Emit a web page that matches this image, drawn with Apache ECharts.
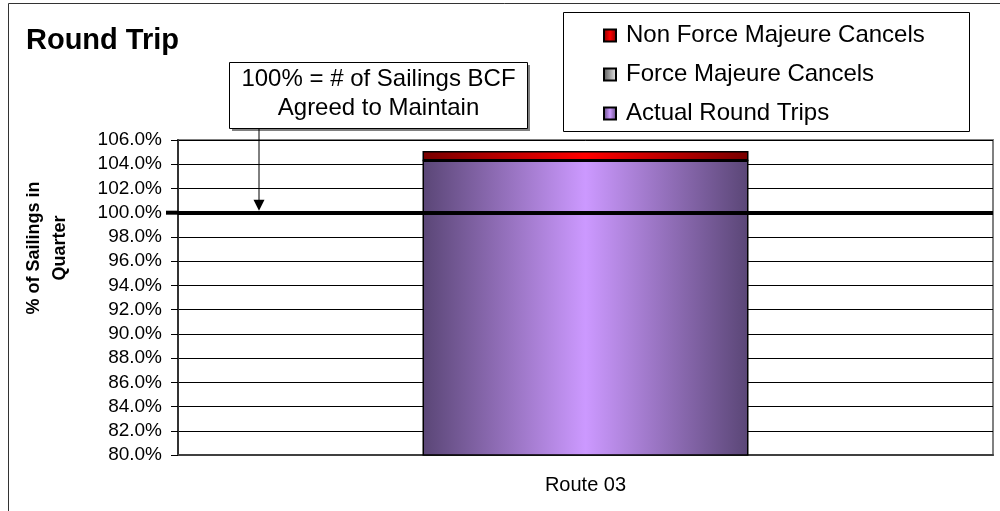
<!DOCTYPE html>
<html><head><meta charset="utf-8">
<script src="https://cdn.jsdelivr.net/npm/echarts@6/dist/echarts.min.js"></script>
<style>html,body{margin:0;padding:0;background:#fff}#c{width:1000px;height:511px}</style>
</head><body><div id="c"></div>
<script>
// ---- data ----
const categories = ['Route 03'];
const actualRoundTrips = [104.3];
const forceMajeureCancels = [0];
const nonForceMajeureCancels = [0.8];
const yMin = 80, yMax = 106, yStep = 2;
const referenceValue = 100;
const titleText = 'Round Trip';
const yAxisName = '% of Sailings in\nQuarter';
const noteText = '100% = # of Sailings BCF\nAgreed to Maintain';
const seriesNames = ['Actual Round Trips', 'Force Majeure Cancels', 'Non Force Majeure Cancels'];

const FONT = 'Liberation Sans, Arial, sans-serif';
const G = echarts.graphic.LinearGradient;
const purple = new G(0,0,1,0,[{offset:0,color:'#5a4676'},{offset:0.5,color:'#cc99ff'},{offset:1,color:'#5a4676'}]);
const red = new G(0,0,1,0,[{offset:0,color:'#780000'},{offset:0.5,color:'#ff0000'},{offset:1,color:'#780000'}]);
const gray = new G(0,0,1,0,[{offset:0,color:'#555555'},{offset:1,color:'#eeeeee'}]);

const chart = echarts.init(document.getElementById('c'), null, {renderer:'canvas'});
const barStyle = (c) => ({color:c, borderColor:'#000', borderWidth:1.5});

chart.setOption({
  animation:false,
  backgroundColor:'#fff',
  textStyle:{fontFamily:FONT},
  grid:{left:178, top:140, right:7, bottom:56, show:true, borderColor:'#808080', borderWidth:2, backgroundColor:'transparent'},
  legend:{
    orient:'vertical', left:603, top:23, padding:0,
    data:[seriesNames[2], seriesNames[1], seriesNames[0]],
    itemWidth:12, itemHeight:12, itemGap:14, icon:'rect',
    textStyle:{fontSize:24, color:'#000', fontFamily:FONT, lineHeight:25, padding:[0,0,0,5]},
    selectedMode:false
  },
  xAxis:{
    type:'category', data:categories,
    axisLine:{lineStyle:{color:'#404040', width:2}},
    axisTick:{show:false},
    axisLabel:{fontSize:20, color:'#000', margin:20, fontFamily:FONT}
  },
  yAxis:{
    type:'value', min:yMin, max:yMax, interval:yStep,
    axisLine:{show:true, lineStyle:{color:'#333', width:2}},
    axisTick:{show:true, length:7, lineStyle:{color:'#000'}},
    splitLine:{lineStyle:{color:'#000', width:1}},
    axisLabel:{fontSize:19, color:'#000', margin:16, fontFamily:FONT, formatter:(v)=>v.toFixed(1)+'%'}
  },
  series:[
    {name:seriesNames[0], type:'bar', stack:'s', data:actualRoundTrips, barWidth:'40%', itemStyle:barStyle(purple),
     markLine:{silent:true, symbol:'none', label:{show:false}, lineStyle:{color:'#000', width:4, type:'solid'}, data:[{yAxis:referenceValue}], z:10}},
    {name:seriesNames[1], type:'bar', stack:'s', data:forceMajeureCancels, barWidth:'40%', itemStyle:barStyle(gray)},
    {name:seriesNames[2], type:'bar', stack:'s', data:nonForceMajeureCancels, barWidth:'40%', itemStyle:barStyle(red)}
  ]
});

const refY = chart.convertToPixel({yAxisIndex:0}, referenceValue);
const gridLeft = 178;
const arrowX = 259;

chart.setOption({
  graphic:[
    {type:'rect', z:-10, silent:true, shape:{x:8.5, y:3.5, width:1100, height:700}, style:{fill:'none', stroke:'#333', lineWidth:1}},
    {type:'text', z:10, x:26, y:41, style:{text:titleText, font:'bold 29px '+FONT, fill:'#000', verticalAlign:'middle'}},
    {type:'rect', z:0, silent:true, shape:{x:563.5, y:12.5, width:406, height:119}, style:{fill:'#fff', stroke:'#000', lineWidth:1}},
    {type:'rect', z:0, silent:true, shape:{x:232, y:65, width:298, height:66}, style:{fill:'#808080'}},
    {type:'rect', z:1, silent:true, shape:{x:229.5, y:62.5, width:298, height:66}, style:{fill:'#fff', stroke:'#000', lineWidth:1}},
    {type:'text', z:2, x:378.5, y:94, style:{text:noteText, font:'24px '+FONT, fill:'#000', align:'center', verticalAlign:'middle', lineHeight:29}},
    {type:'line', z:20, silent:true, shape:{x1:arrowX, y1:129, x2:arrowX, y2:refY-10}, style:{stroke:'#000', lineWidth:1}},
    {type:'polygon', z:20, silent:true, shape:{points:[[arrowX-5.5, refY-13],[arrowX+5.5, refY-13],[arrowX, refY-2]]}, style:{fill:'#000'}},
    {type:'line', z:20, silent:true, shape:{x1:166, y1:refY, x2:gridLeft, y2:refY}, style:{stroke:'#000', lineWidth:4}},
    {type:'text', z:10, x:47, y:248, rotation:Math.PI/2, style:{text:yAxisName, font:'bold 18px '+FONT, fill:'#000', align:'center', verticalAlign:'middle', lineHeight:26}}
  ]
});
</script>
</body></html>
